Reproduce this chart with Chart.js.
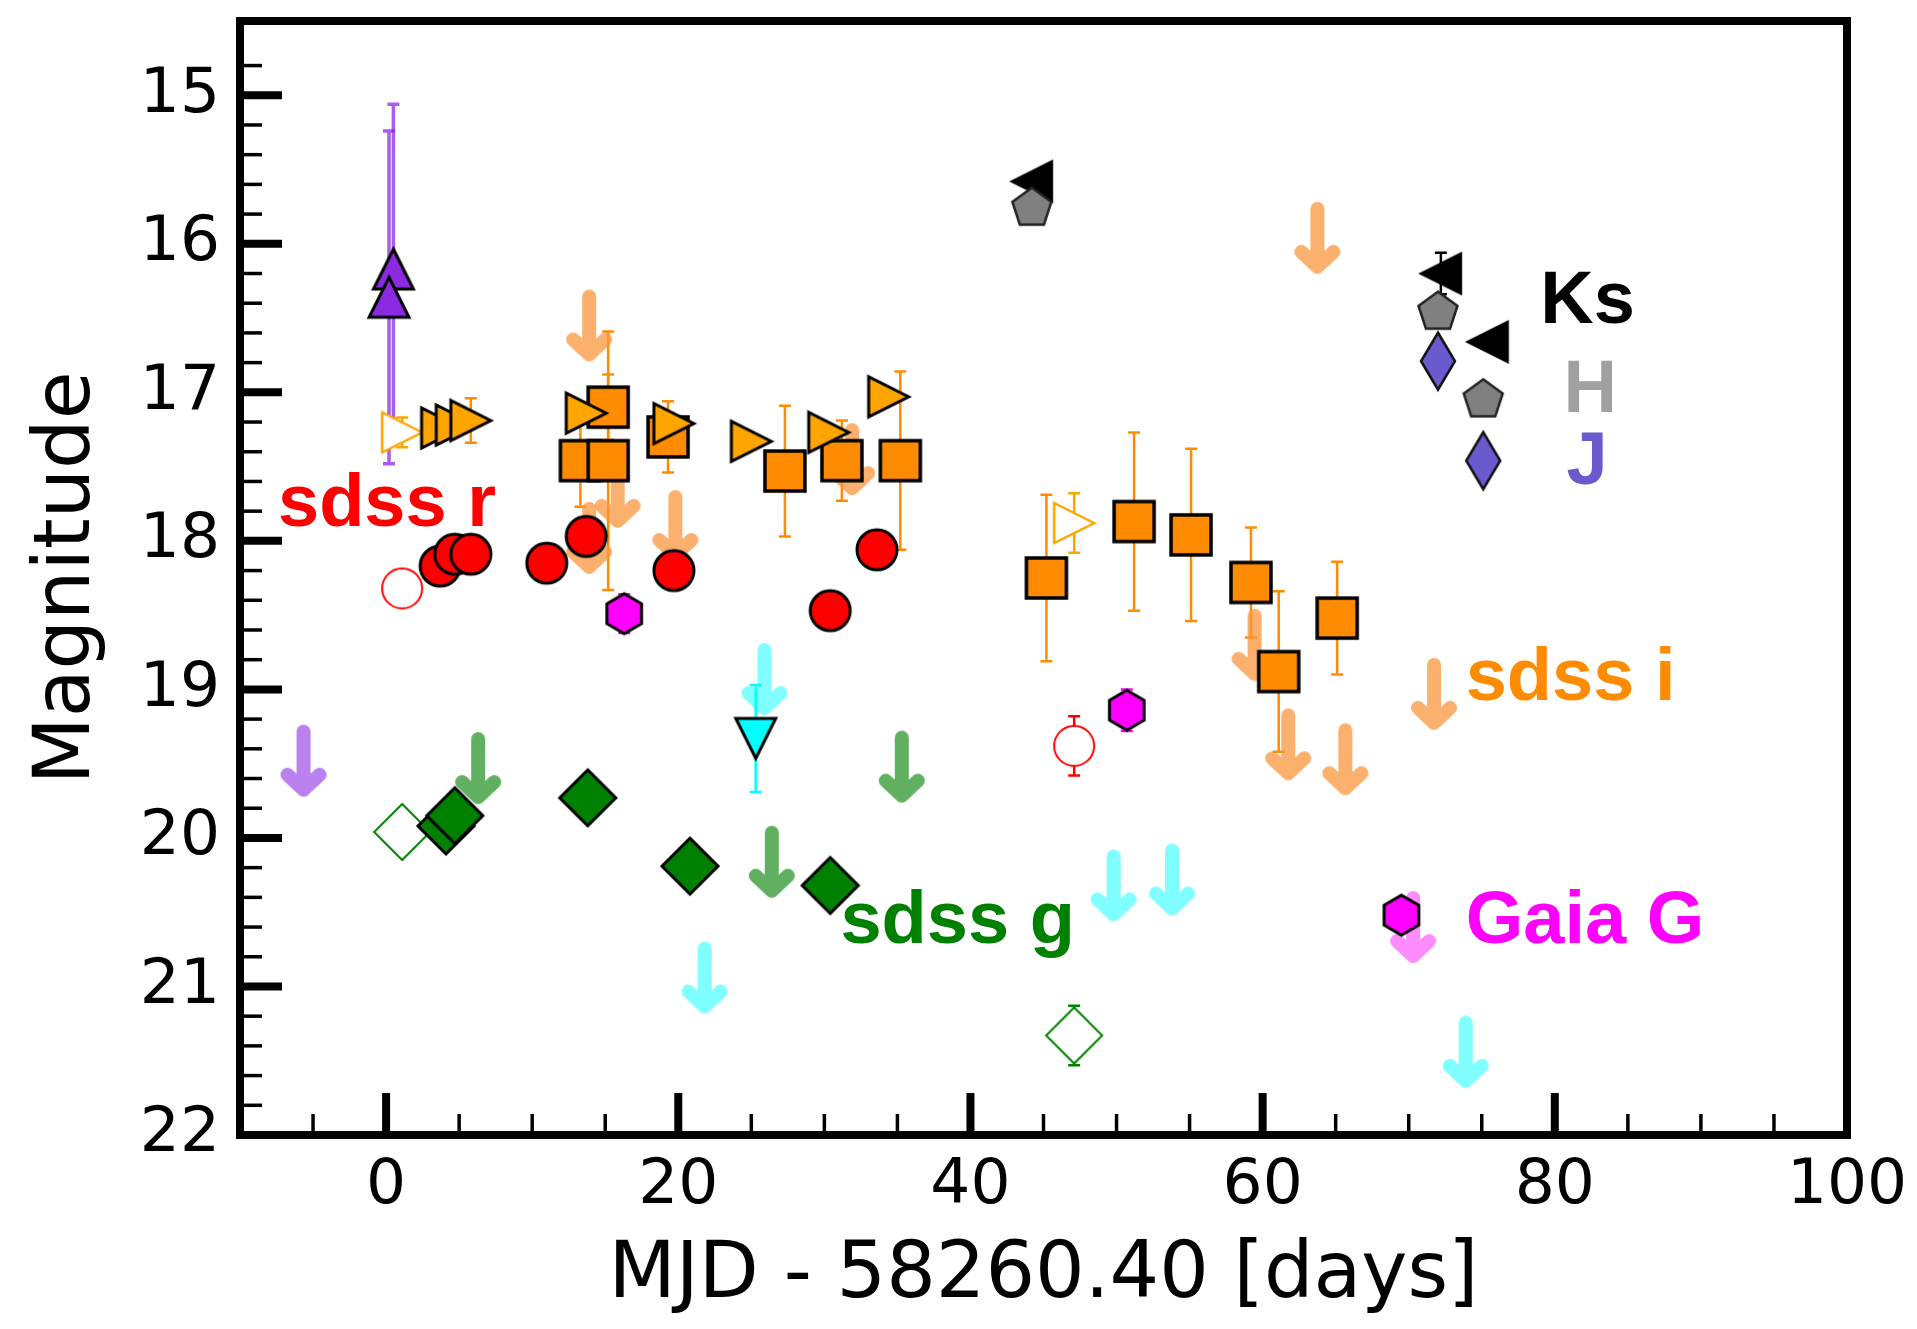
<!DOCTYPE html>
<html>
<head>
<meta charset="utf-8">
<script src="https://cdn.jsdelivr.net/npm/chart.js@4.4.1/dist/chart.umd.min.js"></script>
<style>
  html, body { margin: 0; padding: 0; background: #fff; }
</style>
</head>
<body>
<canvas id="lc" width="1917" height="1329"></canvas>
<script>
// ---- data (x = MJD - 58260.40, y = magnitude) ----
const rX = [3.7, 4.7, 5.8, 11.0, 13.7, 19.7, 30.4, 33.6];
const rY = [18.17, 18.09, 18.09, 18.15, 17.97, 18.20, 18.47, 18.06];
const rOpenX = [1.1, 47.1];
const rOpenY = [18.32, 19.38];
const rOpenErr = [0, 0.2];

const iSqX = [13.3, 15.2, 15.2, 19.3, 27.3, 31.2, 35.2, 45.2, 51.2, 55.1, 59.2, 61.1, 65.1];
const iSqY = [17.46, 17.10, 17.46, 17.30, 17.53, 17.46, 17.46, 18.25, 17.87, 17.96, 18.28, 18.88, 18.52];
const iSqErr = [0.31, 0.22, 0.87, 0.24, 0.44, 0.27, 0.60, 0.56, 0.60, 0.58, 0.37, 0.54, 0.38];

const iTriX = [3.8, 4.8, 5.8, 13.7, 19.7, 25.0, 30.3, 34.4];
const iTriY = [17.24, 17.22, 17.19, 17.14, 17.21, 17.33, 17.27, 17.03];
const iTriErr = [0, 0, 0.15, 0, 0, 0, 0, 0];
const iOpenX = [1.1, 47.1];
const iOpenY = [17.27, 17.88];
const iOpenErr = [0.1, 0.2];
const iLimX = [13.9, 15.85, 13.9, 19.8, 31.9, 59.45, 61.75, 63.75, 65.66, 71.73];
const iLimY = [16.55, 17.67, 17.98, 17.90, 17.45, 18.70, 19.37, 15.96, 19.47, 19.03];

const gX = [4.1, 4.7, 13.8, 20.8, 30.4];
const gY = [19.92, 19.85, 19.73, 20.19, 20.32];
const gOpenX = [1.1, 47.1];
const gOpenY = [19.96, 21.33];
const gOpenErr = [0, 0.2];
const gLimX = [6.3, 26.4, 35.3];
const gLimY = [19.53, 20.16, 19.52];

const uvX = [25.3];
const uvY = [19.33];
const uvErr = [0.36];
const uvLimX = [25.9, 21.8, 49.8, 53.8, 73.9];
const uvLimY = [18.93, 20.94, 20.32, 20.28, 21.44];

const violetX = [0.5, 0.2];
const violetY = [16.17, 16.36];
const violetErr = [1.11, 1.12];
const violetLimX = [-5.65];
const violetLimY = [19.48];

const gaiaX = [16.3, 50.7, 69.5];
const gaiaY = [18.49, 19.14, 20.52];
const gaiaErr = [0.13, 0.14, 0];
const gaiaLimX = [70.3];
const gaiaLimY = [20.6];

const ksX = [44.2, 72.2, 75.4];
const ksY = [15.58, 16.20, 16.66];
const ksErr = [0, 0.14, 0];
const hX = [44.2, 72.0, 75.1];
const hY = [15.76, 16.46, 17.05];
const jX = [72.0, 75.1];
const jY = [16.79, 17.46];

const bandLabels = [
  { text: 'sdss r', color: '#ff0000', x: -7.4, y: 17.9 },
  { text: 'sdss i', color: '#ff8c00', x: 73.9, y: 19.07 },
  { text: 'Gaia G', color: '#ff00ff', x: 73.9, y: 20.71 },
  { text: 'sdss g', color: '#008000', x: 31.1, y: 20.71 },
  { text: 'Ks', color: '#000000', x: 79.0, y: 16.53 },
  { text: 'H', color: '#a0a0a0', x: 80.6, y: 17.13 },
  { text: 'J', color: '#6a5acd', x: 80.8, y: 17.62 }
];

// ---- marker images ----
function makeMarker(path, half, fill, stroke, lw) {
  const c = document.createElement('canvas');
  const size = 2 * Math.ceil(half + lw + 2);
  c.width = c.height = size;
  const g = c.getContext('2d');
  g.translate(size / 2, size / 2);
  g.beginPath();
  path(g);
  g.closePath();
  if (fill) { g.fillStyle = fill; g.fill(); }
  if (stroke) { g.lineWidth = lw; g.strokeStyle = stroke; g.stroke(); }
  return c;
}
const poly = pts => g => pts.forEach((p, i) => i ? g.lineTo(p[0], p[1]) : g.moveTo(p[0], p[1]));
function regular(n, r) {
  const pts = [];
  for (let k = 0; k < n; k++) {
    const a = -Math.PI / 2 + k * 2 * Math.PI / n;
    pts.push([r * Math.cos(a), r * Math.sin(a)]);
  }
  return poly(pts);
}
const circle = g => g.arc(0, 0, 20, 0, Math.PI * 2);
const square = poly([[-20, -20], [20, -20], [20, 20], [-20, 20]]);
const triUp = poly([[0, -20], [20, 20], [-20, 20]]);
const triDown = poly([[0, 20], [20, -20], [-20, -20]]);
const triRight = poly([[20, 0], [-20, -20], [-20, 20]]);
const triLeft = poly([[-20, 0], [20, -20], [20, 20]]);
const diamond = poly([[0, -28], [28, 0], [0, 28], [-28, 0]]);
const thinDiamond = poly([[0, -28.5], [17, 0], [0, 28.5], [-17, 0]]);

function makeArrow(color) {
  const c = document.createElement('canvas');
  c.width = 60; c.height = 84;
  const g = c.getContext('2d');
  g.translate(30, 42);
  g.strokeStyle = color;
  g.lineWidth = 14;
  g.lineCap = 'round';
  g.lineJoin = 'round';
  g.beginPath();
  g.moveTo(0, -29); g.lineTo(0, 29);
  g.moveTo(-16, 14); g.lineTo(0, 29); g.lineTo(16, 14);
  g.stroke();
  return c;
}

const pts = (xs, ys) => xs.map((x, i) => ({ x, y: ys[i] }));

function series(xs, ys, style, order, extra) {
  return Object.assign({
    data: pts(xs, ys),
    pointStyle: style,
    pointRadius: 20,
    showLine: false,
    clip: false,
    order
  }, extra || {});
}

const datasets = [
  series(jX, jY, makeMarker(thinDiamond, 29, '#6a5acd', '#111', 2.5), 1),
  series(hX, hY, makeMarker(regular(5, 20.5), 21, '#808080', '#222', 2.5), 2),
  series(ksX, ksY, makeMarker(triLeft, 20, '#000', '#000', 2.5), 3, { err: ksErr, errColor: '#000' }),
  series(gaiaX, gaiaY, makeMarker(regular(6, 20), 20, '#ff00ff', '#000', 3), 4, { err: gaiaErr, errColor: '#ff00ff' }),
  series(uvX, uvY, makeMarker(triDown, 20, '#00ffff', '#000', 3), 4, { err: uvErr, errColor: '#00ffff' }),
  series(violetX, violetY, makeMarker(triUp, 20, '#8a2be2', '#000', 3), 4, { err: violetErr, errColor: 'rgba(138,43,226,0.75)', errWidth: 3.5 }),
  series(gX, gY, makeMarker(diamond, 28, '#008000', '#000', 3), 5),
  series(rX, rY, makeMarker(circle, 20, '#ff0000', '#000', 3), 5),
  series(iTriX, iTriY, makeMarker(triRight, 20, '#ffa500', '#000', 3), 6, { err: iTriErr, errColor: '#ff8c00' }),
  series(rOpenX, rOpenY, makeMarker(circle, 20, '#fff', '#ff0000', 2), 7, { err: rOpenErr, errColor: '#ff0000' }),
  series(gOpenX, gOpenY, makeMarker(diamond, 28, '#fff', '#008000', 2), 7, { err: gOpenErr, errColor: '#008000' }),
  series(iOpenX, iOpenY, makeMarker(triRight, 20, '#fff', '#ffa500', 2.5), 7, { err: iOpenErr, errColor: '#ffa500' }),
  series(iSqX, iSqY, makeMarker(square, 20, '#ff8c00', '#000', 3.5), 8, { err: iSqErr, errColor: '#ff8c00' }),
  series(iLimX, iLimY, makeArrow('rgba(250,150,60,0.75)'), 10),
  series(gLimX, gLimY, makeArrow('rgba(0,128,0,0.62)'), 10),
  series(uvLimX, uvLimY, makeArrow('rgba(0,255,255,0.5)'), 10),
  series(violetLimX, violetLimY, makeArrow('rgba(138,43,226,0.6)'), 10),
  series(gaiaLimX, gaiaLimY, makeArrow('rgba(255,0,255,0.45)'), 10)
];

// error bars under the markers
const errorBars = {
  id: 'errorBars',
  beforeDatasetsDraw(chart) {
    const { ctx } = chart;
    const xs = chart.scales.x, ys = chart.scales.y;
    chart.data.datasets.forEach(ds => {
      if (!ds.err) return;
      ctx.save();
      ctx.strokeStyle = ds.errColor;
      ctx.lineWidth = ds.errWidth || 2.5;
      ds.data.forEach((p, i) => {
        const e = ds.err[i];
        if (!e) return;
        const px = xs.getPixelForValue(p.x);
        const y1 = ys.getPixelForValue(p.y - e);
        const y2 = ys.getPixelForValue(p.y + e);
        ctx.beginPath();
        ctx.moveTo(px, y1); ctx.lineTo(px, y2);
        ctx.moveTo(px - 6, y1); ctx.lineTo(px + 6, y1);
        ctx.moveTo(px - 6, y2); ctx.lineTo(px + 6, y2);
        ctx.stroke();
      });
      ctx.restore();
    });
  }
};

// band names, inward ticks and the frame
const frameAndLabels = {
  id: 'frameAndLabels',
  afterDraw(chart) {
    const { ctx, chartArea: a } = chart;
    const xs = chart.scales.x, ys = chart.scales.y;
    ctx.save();
    ctx.font = 'bold 74px "Liberation Sans", Arial, sans-serif';
    ctx.textAlign = 'left';
    ctx.textBaseline = 'alphabetic';
    bandLabels.forEach(l => {
      ctx.fillStyle = l.color;
      ctx.fillText(l.text, xs.getPixelForValue(l.x), ys.getPixelForValue(l.y));
    });

    ctx.strokeStyle = '#000';
    ys.ticks.forEach(t => {
      const v = t.value;
      if (Math.abs(v * 5 - Math.round(v * 5)) > 1e-6 || v <= ys.min || v >= ys.max) return;
      const major = Math.abs(v - Math.round(v)) < 1e-6;
      const py = ys.getPixelForValue(v);
      ctx.lineWidth = major ? 8 : 3.5;
      ctx.beginPath();
      ctx.moveTo(a.left, py);
      ctx.lineTo(a.left + (major ? 42 : 22), py);
      ctx.stroke();
    });
    xs.ticks.forEach(t => {
      const v = t.value;
      if (v <= xs.min) return;
      const major = Math.abs(v % 20) < 1e-6;
      const px = xs.getPixelForValue(v);
      ctx.lineWidth = major ? 8 : 3.5;
      ctx.beginPath();
      ctx.moveTo(px, a.bottom);
      ctx.lineTo(px, a.bottom - (major ? 42 : 21));
      ctx.stroke();
    });

    ctx.lineWidth = 8;
    ctx.strokeRect(a.left, a.top, a.right - a.left, a.bottom - a.top);
    ctx.restore();
  }
};

const tickFont = { family: '"DejaVu Sans"', size: 63 };
const titleFont = { family: '"DejaVu Sans"', size: 78 };

new Chart(document.getElementById('lc'), {
  type: 'scatter',
  data: { datasets },
  options: {
    responsive: false,
    devicePixelRatio: 1,
    animation: false,
    events: [],
    layout: { padding: { left: 0, top: 15, right: 70, bottom: 0 } },
    plugins: { legend: { display: false }, tooltip: { enabled: false } },
    scales: {
      x: {
        type: 'linear',
        min: -10, max: 100,
        grid: { display: false, drawTicks: false },
        border: { display: false },
        ticks: {
          stepSize: 5, autoSkip: false, maxRotation: 0, minRotation: 0,
          padding: 14, color: '#000', font: tickFont,
          callback: v => (Math.abs(v % 20) < 1e-6 ? String(v) : '')
        },
        title: { display: true, text: 'MJD - 58260.40 [days]', color: '#000', font: titleFont, padding: { top: 0, bottom: 5 } },
        afterFit: s => { s.height = 194; s.paddingLeft = 0; s.paddingRight = 0; }
      },
      y: {
        type: 'linear',
        reverse: true,
        min: 14.5, max: 22,
        grid: { display: false, drawTicks: false },
        border: { display: false },
        ticks: {
          stepSize: 0.2, autoSkip: false,
          padding: 20, color: '#000', font: tickFont,
          callback: v => (Math.abs(v - Math.round(v)) < 1e-6 ? String(Math.round(v)) : '')
        },
        title: { display: true, text: 'Magnitude', color: '#000', font: titleFont, padding: { top: 22, bottom: 0 } },
        afterFit: s => { s.width = 240; s.paddingTop = 0; s.paddingBottom = 0; }
      }
    }
  },
  plugins: [errorBars, frameAndLabels]
});
</script>
</body>
</html>
